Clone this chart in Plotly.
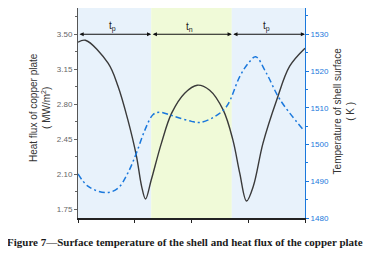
import plotly.graph_objects as go

# Data
flux_x = [0, 0.13, 0.53, 0.705, 0.88, 1.03, 1.12, 1.19, 1.29, 1.47, 1.65, 1.88, 2.1, 2.32, 2.56, 2.73, 2.85, 2.97, 3.09, 3.26, 3.50, 3.73, 4.0]
flux_y = [3.42, 3.44, 3.21, 2.98, 2.64, 2.28, 1.98, 1.85, 2.04, 2.41, 2.71, 2.91, 2.99, 2.94, 2.74, 2.44, 2.11, 1.83, 1.98, 2.41, 2.84, 3.18, 3.36]

temp_x = [0, 0.18, 0.5, 0.71, 0.88, 1.03, 1.18, 1.32, 1.43, 1.71, 2.0, 2.15, 2.41, 2.62, 2.85, 3.0, 3.13, 3.32, 3.56, 3.96]
temp_y = [1492.0, 1488.6, 1486.9, 1488.2, 1492.3, 1497.7, 1504.0, 1508.1, 1508.8, 1507.6, 1506.3, 1506.0, 1507.6, 1510.4, 1518.5, 1522.1, 1523.9, 1519.4, 1512.2, 1504.2]

phase_edges = [0, 1.29, 2.71, 4.0]
phase_labels = ["t<sub>p</sub>", "t<sub>n</sub>", "t<sub>p</sub>"]
phase_colors = ["#e8f2fb", "#f0fad8", "#e8f2fb"]
arrow_level = 3.50

left_ticks = [1.75, 2.10, 2.45, 2.80, 3.15, 3.50]
right_ticks = [1480, 1490, 1500, 1510, 1520, 1530]

BLUE = "#1a78dc"

fig = go.Figure()

fig.add_trace(go.Scatter(x=flux_x, y=flux_y, mode="lines",
                         line=dict(color="#3a3a3a", width=1.4, shape="spline", smoothing=1.0),
                         yaxis="y", showlegend=False))
fig.add_trace(go.Scatter(x=temp_x, y=temp_y, mode="lines",
                         line=dict(color=BLUE, width=1.5, shape="spline", smoothing=1.0,
                                   dash="6px,3px,2px,3px"),
                         yaxis="y2", showlegend=False))

shapes = []
for i in range(3):
    shapes.append(dict(type="rect", xref="x", yref="paper", x0=phase_edges[i], x1=phase_edges[i + 1],
                       y0=0, y1=1, fillcolor=phase_colors[i], line=dict(width=0), layer="below"))

annotations = []
for i in range(3):
    a, b = phase_edges[i], phase_edges[i + 1]
    annotations.append(dict(x=b, y=arrow_level, ax=a, ay=arrow_level, xref="x", yref="y",
                            axref="x", ayref="y", text="", showarrow=True,
                            arrowhead=2, startarrowhead=2, arrowside="end+start",
                            arrowsize=0.7, startarrowsize=0.7, arrowwidth=1.2, arrowcolor="#111"))
    annotations.append(dict(x=(a + b) / 2 - 0.04, y=arrow_level, xref="x", yref="y", text=phase_labels[i],
                            showarrow=False, yanchor="bottom", yshift=-1,
                            font=dict(family="Liberation Sans, Arial", size=10, color="#222")))

annotations.append(dict(x=-0.167, y=0.524, xref="paper", yref="paper", textangle=-90,
                        text="Heat flux of copper plate<br>( MW/m<sup>2</sup>)", showarrow=False,
                        xanchor="center", yanchor="middle",
                        font=dict(family="Liberation Sans, Arial", size=10, color="#333")))
annotations.append(dict(x=1.176, y=0.512, xref="paper", yref="paper", textangle=-90,
                        text="Temperature of shell surface<br>( K )", showarrow=False,
                        xanchor="center", yanchor="middle",
                        font=dict(family="Liberation Sans, Arial", size=10, color="#333")))
annotations.append(dict(x=0.470, y=-0.114, xref="paper", yref="paper",
                        text="<b>Figure 7—Surface temperature of the shell and heat flux of the copper plate</b>",
                        showarrow=False, xanchor="center", yanchor="middle",
                        font=dict(family="Liberation Serif, Times New Roman", size=11, color="#1a1a1a")))

fig.update_layout(
    width=367, height=255,
    margin=dict(l=70, r=69.5, t=0, b=45),
    paper_bgcolor="white", plot_bgcolor="white",
    shapes=shapes, annotations=annotations,
    xaxis=dict(range=[0, 4], showgrid=False, zeroline=False, showticklabels=False,
               ticks="outside", ticklen=3, tickcolor="#222", tickvals=[0, 1, 2, 3, 4],
               showline=True, linecolor="#222", linewidth=1.5),
    yaxis=dict(range=[1.66, 3.763], showgrid=False, zeroline=False,
               tickvals=left_ticks, ticktext=[f"{v:.2f}" for v in left_ticks],
               ticks="outside", ticklen=3, tickcolor="#666",
               minor=dict(ticks="outside", ticklen=2, tickcolor="#666", dtick=0.175, tick0=1.75),
               showline=True, linecolor="#555", linewidth=1,
               tickfont=dict(family="Liberation Sans, Arial", size=8, color="#666")),
    yaxis2=dict(range=[1480, 1537.16], overlaying="y", side="right", showgrid=False, zeroline=False,
                tickvals=right_ticks, ticks="outside", ticklen=3, tickcolor=BLUE,
                minor=dict(ticks="outside", ticklen=2, tickcolor=BLUE, dtick=5, tick0=1480),
                showline=True, linecolor=BLUE, linewidth=1,
                tickfont=dict(family="Liberation Sans, Arial", size=8, color=BLUE)),
)

fig.write_html("out.html")
